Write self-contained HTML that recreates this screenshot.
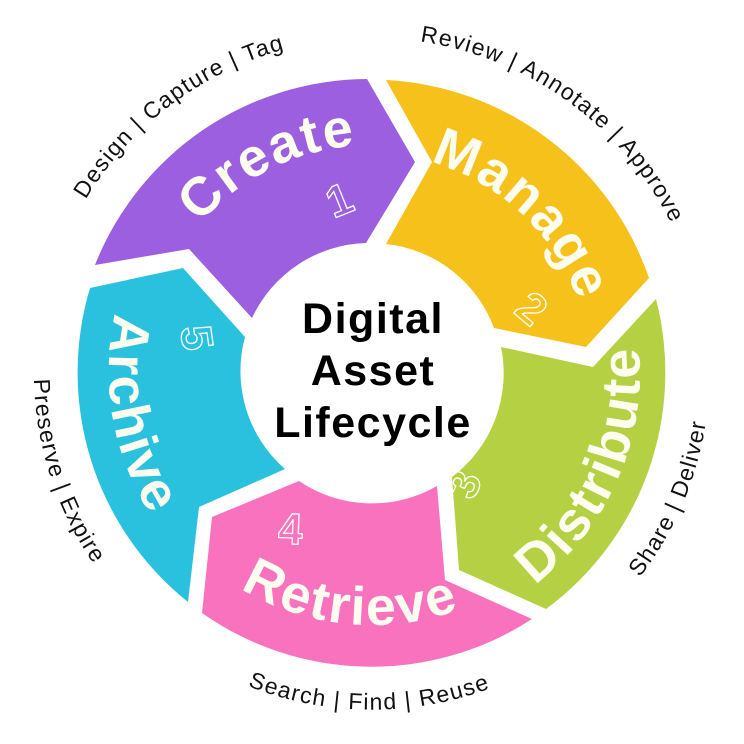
<!DOCTYPE html>
<html><head><meta charset="utf-8"><style>
html,body{margin:0;padding:0;background:#fff;}
svg{display:block;}
.lab{font-family:"Liberation Sans",sans-serif;font-size:23px;fill:#111;letter-spacing:1.3px;}
.big{font-family:"Liberation Sans",sans-serif;font-weight:bold;font-size:54px;fill:#fdfdf0;letter-spacing:2px;}
.num{font-family:"Liberation Sans",sans-serif;font-weight:bold;font-size:44px;fill:none;stroke:#fff;stroke-width:1.3;}
.ctr{font-family:"Liberation Sans",sans-serif;font-weight:bold;font-size:43px;fill:#000;letter-spacing:1.5px;}
</style></head><body>
<svg width="744" height="744" viewBox="0 0 744 744" xmlns="http://www.w3.org/2000/svg">
<defs>
<path id="p1" d="M74.4,523.6 A334,334 0 0 1 599.8,127.6"/>
<path id="p2" d="M140,131.7 A334,334 0 0 1 672.2,518.4"/>
<path id="p3" d="M296,701 A338,338 0 0 0 556.2,88.4"/>
<path id="p4" d="M38.7,427.7 A338,338 0 0 0 704.3,433.6"/>
<path id="p5" d="M213.3,73.5 A338,338 0 0 0 419,706.7"/>
<path id="m1" d="M154.5,436.9 A227,227 0 0 1 554.3,236.7"/>
<path id="m2" d="M240,195 A222,222 0 0 1 557,494"/>
<path id="m3" d="M309.5,631 A266,266 0 0 0 519,150"/>
<path id="m4" d="M119.8,392.3 A253,253 0 0 0 615.9,439.3"/>
<path id="m5" d="M281.2,125.1 A263,263 0 0 0 372.9,635"/>
</defs>
<path fill="#9b5fe0" d="M95,265 A294,294 0 0 1 367,79 L415,162 L366,243 A130,130 0 0 0 252,318 L189,249 Z"/>
<path fill="#f6c11a" d="M386,80 A294,294 0 0 1 649,278 L586,347 L494,328 A130,130 0 0 0 386,244 L432,162 Z"/>
<path fill="#b5d043" d="M656,299 A294,294 0 0 1 546,609 L459,570 L452,477 A130,130 0 0 0 501,347 L593,367 Z"/>
<path fill="#f872bd" d="M532,619 A294,294 0 0 1 202,613 L212,517 L299,481 A130,130 0 0 0 437,486 L445,580 Z"/>
<path fill="#2ac1df" d="M188,602 A294,294 0 0 1 90,288 L183,268 L245,337 A130,130 0 0 0 285,469 L199,507 Z"/>

<text class="big"><textPath href="#m1" startOffset="50%" text-anchor="middle">Create</textPath></text>
<text class="big"><textPath href="#m2" startOffset="50%" text-anchor="middle">Manage</textPath></text>
<text class="big"><textPath href="#m3" startOffset="50%" text-anchor="middle">Distribute</textPath></text>
<text class="big"><textPath href="#m4" startOffset="50%" text-anchor="middle">Retrieve</textPath></text>
<text class="big"><textPath href="#m5" startOffset="50%" text-anchor="middle">Archive</textPath></text>

<text class="num" transform="translate(345,214) rotate(-22)" text-anchor="middle">1</text>
<text class="num" transform="translate(522,320) rotate(40)" text-anchor="middle">2</text>
<text class="num" transform="translate(478,490) rotate(-68)" text-anchor="middle">3</text>
<text class="num" transform="translate(290,544) rotate(2)" text-anchor="middle">4</text>
<text class="num" transform="translate(182,340) rotate(82)" text-anchor="middle">5</text>

<text class="lab"><textPath href="#p1" startOffset="50%" text-anchor="middle">Design  |  Capture  |  Tag</textPath></text>
<text class="lab"><textPath href="#p2" startOffset="50%" text-anchor="middle">Review  |  Annotate  |  Approve</textPath></text>
<text class="lab"><textPath href="#p3" startOffset="50%" text-anchor="middle">Share  |  Deliver</textPath></text>
<text class="lab"><textPath href="#p4" startOffset="50%" text-anchor="middle">Search  |  Find  |  Reuse</textPath></text>
<text class="lab"><textPath href="#p5" startOffset="50%" text-anchor="middle">Preserve  |  Expire</textPath></text>

<text class="ctr" x="373" y="333" text-anchor="middle">Digital</text>
<text class="ctr" x="373" y="385" text-anchor="middle">Asset</text>
<text class="ctr" x="373" y="437" text-anchor="middle">Lifecycle</text>
</svg>
</body></html>
